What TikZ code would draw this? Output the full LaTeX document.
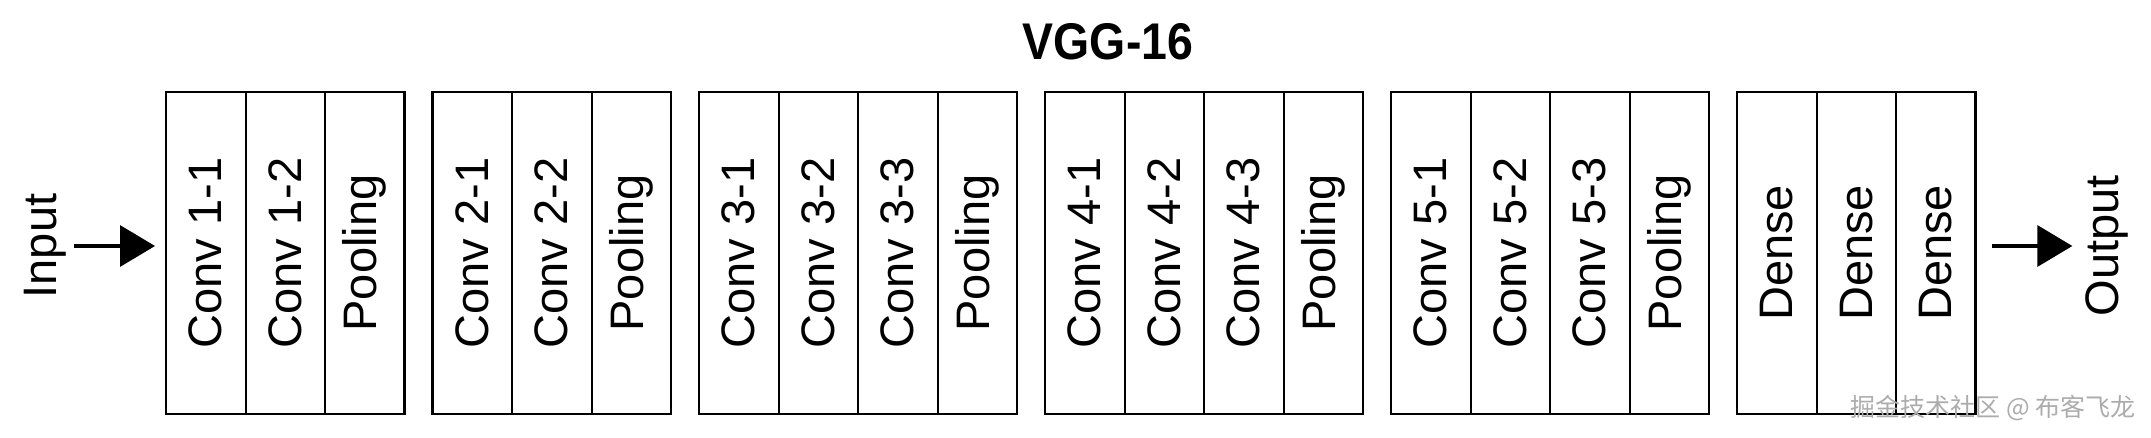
\documentclass[tikz,border=0pt]{standalone}
\usepackage{graphicx}
\usepackage{fontspec}
\setmainfont{Liberation Sans}
\newfontfamily\titlefont[FakeStretch=0.9]{Liberation Sans}
\newfontfamily\cjkfont{Noto Sans CJK SC}
\usetikzlibrary{positioning,fit,arrows.meta}
\begin{document}
\begin{tikzpicture}[x=0.5pt,y=-0.5pt,
  lblfont/.style={font=\fontsize{23.5pt}{28pt}\selectfont},
  cell/.style={draw, line width=1pt, minimum width=39.75pt, minimum height=161pt,
    inner sep=0pt, outer sep=0pt, lblfont},
  grp/.style={draw, line width=1.35pt, inner sep=0pt, outer sep=0pt},
  side/.style={lblfont, inner sep=4pt},
  arr/.style={line width=1.75pt, -{Triangle[length=17.5pt,width=20.5pt]}},
  node distance=0pt]
\useasboundingbox (0,0) rectangle (2151,438);

% title
\node[anchor=base, font=\titlefont\bfseries\fontsize{25.8pt}{30pt}\selectfont] (title) at (1108,60) {VGG-16};

% group 1
\node[cell] (c11) at (205.75,253) {\rotatebox{90}{Conv 1-1}};
\node[cell, right=0pt of c11] (c12) {\rotatebox{90}{Conv 1-2}};
\node[cell, right=0pt of c12] (c13) {\rotatebox{90}{Pooling}};
% group 2
\node[cell, right=14pt of c13] (c21) {\rotatebox{90}{Conv 2-1}};
\node[cell, right=0pt of c21] (c22) {\rotatebox{90}{Conv 2-2}};
\node[cell, right=0pt of c22] (c23) {\rotatebox{90}{Pooling}};
% group 3
\node[cell, right=14pt of c23] (c31) {\rotatebox{90}{Conv 3-1}};
\node[cell, right=0pt of c31] (c32) {\rotatebox{90}{Conv 3-2}};
\node[cell, right=0pt of c32] (c33) {\rotatebox{90}{Conv 3-3}};
\node[cell, right=0pt of c33] (c34) {\rotatebox{90}{Pooling}};
% group 4
\node[cell, right=14pt of c34] (c41) {\rotatebox{90}{Conv 4-1}};
\node[cell, right=0pt of c41] (c42) {\rotatebox{90}{Conv 4-2}};
\node[cell, right=0pt of c42] (c43) {\rotatebox{90}{Conv 4-3}};
\node[cell, right=0pt of c43] (c44) {\rotatebox{90}{Pooling}};
% group 5
\node[cell, right=14pt of c44] (c51) {\rotatebox{90}{Conv 5-1}};
\node[cell, right=0pt of c51] (c52) {\rotatebox{90}{Conv 5-2}};
\node[cell, right=0pt of c52] (c53) {\rotatebox{90}{Conv 5-3}};
\node[cell, right=0pt of c53] (c54) {\rotatebox{90}{Pooling}};
% group 6
\node[cell, right=14pt of c54] (c61) {\rotatebox{90}{Dense}};
\node[cell, right=0pt of c61] (c62) {\rotatebox{90}{Dense}};
\node[cell, right=0pt of c62] (c63) {\rotatebox{90}{Dense}};

% group outlines
\node[grp, fit=(c11)(c13)] (g1) {};
\node[grp, fit=(c21)(c23)] (g2) {};
\node[grp, fit=(c31)(c34)] (g3) {};
\node[grp, fit=(c41)(c44)] (g4) {};
\node[grp, fit=(c51)(c54)] (g5) {};
\node[grp, fit=(c61)(c63)] (g6) {};

% input / output
\node[side] (inp) at (45,246) {\rotatebox{90}{Input}};
\node[side] (out) at (2106.5,246) {\rotatebox{90}{Output}};
\draw[arr, shorten >=5.5pt] (inp.east) -- (inp.east -| g1.west);
\draw[arr, shorten <=8.25pt, shorten >=2.25pt] (out.west -| g6.east) -- (out.west);

% watermark
\node[font=\cjkfont\fontsize{12.5pt}{14pt}\selectfont, text=gray!65] (wm) at (1993,408) {掘金技术社区 @ 布客飞龙};
\end{tikzpicture}
\end{document}
